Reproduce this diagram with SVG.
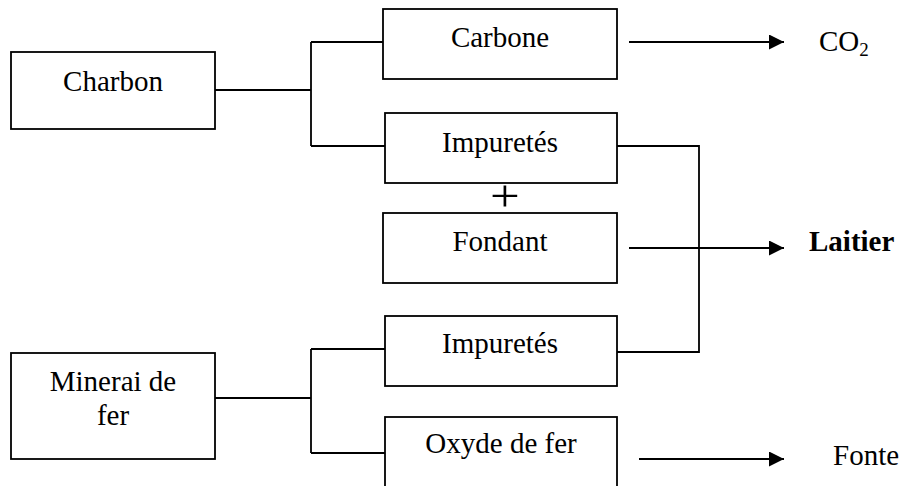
<svg xmlns="http://www.w3.org/2000/svg" width="899" height="486" viewBox="0 0 899 486">
  <style>
    .box { fill: #ffffff; stroke: #000000; stroke-width: 1.8; }
    .lbl { font-family: "Liberation Serif", "Times New Roman", serif; font-size: 29px; fill: #000000; text-anchor: middle; }
    .out { font-family: "Liberation Serif", "Times New Roman", serif; font-size: 29px; fill: #000000; }
    .link { fill: none; stroke: #000000; stroke-width: 1.8; }
    .arrow { fill: none; stroke: #000000; stroke-width: 2.2; marker-end: url(#ah); }
  </style>
  <defs>
    <marker id="ah" markerUnits="userSpaceOnUse" markerWidth="16" markerHeight="15" refX="15" refY="7.5" orient="auto">
      <path d="M0,0 L15,7.5 L0,15 Z" fill="#000000"/>
    </marker>
  </defs>
  <rect width="899" height="486" fill="#ffffff"/>

  <g id="connectors">
    <path class="link" d="M215,90 H311 M311,42 V146 M311,42 H386 M311,146 H386"/>
    <path class="link" d="M215,398 H311 M311,349 V453 M311,349 H386 M311,453 H386"/>
    <path class="link" d="M617,146 H699 V352 H617"/>
    <line class="arrow" x1="629" y1="42" x2="784" y2="42"/>
    <line class="arrow" x1="629" y1="248" x2="784" y2="248"/>
    <line class="arrow" x1="639" y1="459" x2="784" y2="459"/>
  </g>

  <g id="charbon">
    <rect class="box" x="11" y="52" width="204" height="77"/>
    <text class="lbl" x="113" y="91">Charbon</text>
  </g>
  <g id="minerai">
    <rect class="box" x="11" y="353" width="204" height="106"/>
    <text class="lbl" x="113" y="391">Minerai de</text>
    <text class="lbl" x="113" y="425">fer</text>
  </g>
  <g id="carbone">
    <rect class="box" x="383" y="9" width="234" height="70"/>
    <text class="lbl" x="500" y="47">Carbone</text>
  </g>
  <g id="impuretes1">
    <rect class="box" x="385" y="113" width="232" height="70"/>
    <text class="lbl" x="500" y="152">Impuretés</text>
  </g>
  <g id="plus">
    <text x="505" y="197" font-family="Liberation Serif, serif" font-size="44" text-anchor="middle" dominant-baseline="central" transform="translate(505 0) scale(1.2 1) translate(-505 0)">+</text>
  </g>
  <g id="fondant">
    <rect class="box" x="383" y="213" width="234" height="70"/>
    <text class="lbl" x="500" y="251">Fondant</text>
  </g>
  <g id="impuretes2">
    <rect class="box" x="385" y="316" width="232" height="70"/>
    <text class="lbl" x="500" y="353">Impuretés</text>
  </g>
  <g id="oxyde">
    <rect class="box" x="385" y="417" width="232" height="72"/>
    <text class="lbl" x="501" y="453">Oxyde de fer</text>
  </g>
  <g id="co2">
    <text class="out" x="819" y="51">CO<tspan font-size="19" dy="5">2</tspan></text>
  </g>
  <g id="laitier">
    <text class="out" x="809" y="251" font-weight="bold">Laitier</text>
  </g>
  <g id="fonte">
    <text class="out" x="833" y="465">Fonte</text>
  </g>
</svg>
